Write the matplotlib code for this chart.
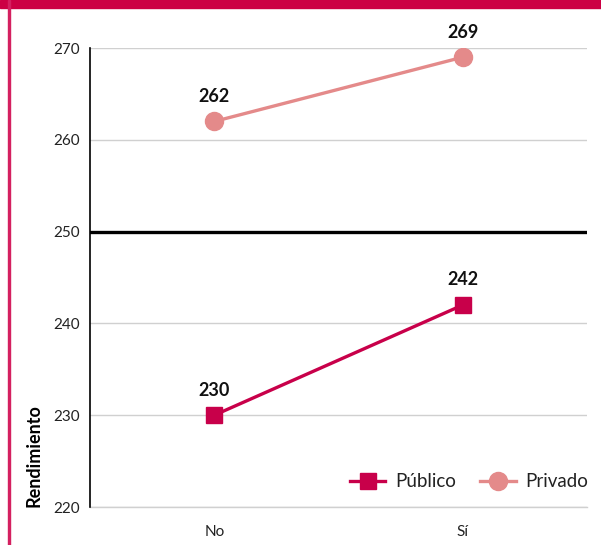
import matplotlib
matplotlib.use("Agg")
import matplotlib.pyplot as plt
from matplotlib.patches import Rectangle

categories = ["No", "Sí"]
publico = [230, 242]
privado = [262, 269]
ref_value = 250
yticks = [220, 230, 240, 250, 260, 270]

c_pub = "#C8004A"
c_priv = "#E48A8A"

plt.rcParams['font.family'] = ['Lato', 'DejaVu Sans']

fig = plt.figure(figsize=(6.01, 5.45), dpi=100)
ax = fig.add_axes([90/601, 1-507/545, (587-90)/601, (507-48)/545])

x = list(range(len(categories)))
ax.plot(x, publico, color=c_pub, lw=2.4, marker='s', ms=11.5, label="Público", zorder=4)
ax.plot(x, privado, color=c_priv, lw=2.4, marker='o', ms=13, label="Privado", zorder=4)
for series in (publico, privado):
    for xi, v in zip(x, series):
        ax.annotate(f"{v}", (xi, v), xytext=(0, 12), textcoords='offset points',
                    ha='center', va='bottom', fontsize=13, fontweight='bold', color='#111111')

ax.axhline(ref_value, color='black', lw=2.4, zorder=3)

ax.set_xlim(-0.5, 1.5)
ax.set_ylim(220, 270)
ax.set_yticks(yticks)
ax.set_xticks(x)
ax.set_xticklabels(categories)
ax.grid(axis='y', color='#d0d0d0', lw=1)
ax.set_axisbelow(True)
for s in ['top', 'right']:
    ax.spines[s].set_visible(False)
ax.spines['bottom'].set_color('#d0d0d0')
ax.spines['bottom'].set_linewidth(1)
ax.spines['left'].set_color('black')
ax.spines['left'].set_linewidth(1.2)
ax.spines['left'].set_zorder(5)
ax.tick_params(axis='both', length=0, labelsize=11, colors='#222222')
ax.tick_params(axis='y', pad=7)
ax.tick_params(axis='x', pad=13)
ax.set_ylabel("Rendimiento", fontsize=13, fontweight='bold', loc='bottom', labelpad=8)

leg = ax.legend(loc='lower right', bbox_to_anchor=(1.017, 0.02), ncol=2, frameon=False,
                fontsize=13.5, handlelength=1.9, columnspacing=1.3, handletextpad=0.5,
                borderaxespad=0.0)
for t in leg.get_texts():
    t.set_color('#222222')

fig.patches.append(Rectangle((0, 1-8/545), 1, 8/545, transform=fig.transFigure,
                             color='#CC0044', zorder=10))
fig.patches.append(Rectangle((8/601, 0), 2/601, 1, transform=fig.transFigure,
                             color='#D42060', zorder=10))

fig.savefig("out.png", dpi=100)
